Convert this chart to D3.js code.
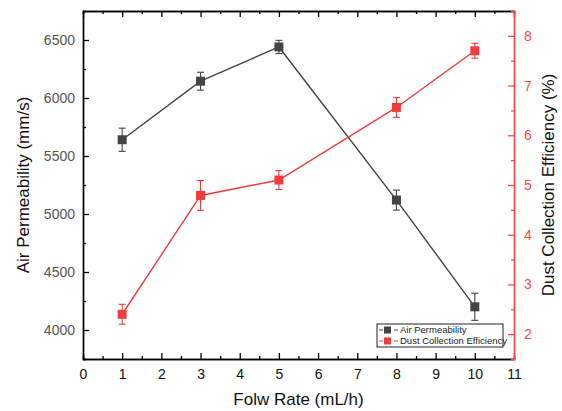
<!DOCTYPE html>
<html>
<head>
<meta charset="utf-8">
<script src="https://cdn.jsdelivr.net/npm/d3@7"></script>
<style>
	body { margin: 0; background: #fff; }
	text { font-family: "Liberation Sans", Arial, sans-serif; }
</style>
</head>
<body>
<div id="plot"></div>
<script>
var flowRate = [1, 3, 5, 8, 10];
var airPerm = [5640, 6145, 6440, 5120, 4200];
var airPermErr = [100, 77, 57, 86, 117];
var dustEff = [2.40, 4.79, 5.10, 6.56, 7.70];
var dustEffErr = [0.20, 0.30, 0.19, 0.20, 0.15];
var xTicks = [0, 1, 2, 3, 4, 5, 6, 7, 8, 9, 10, 11];
var leftTicks = [4000, 4500, 5000, 5500, 6000, 6500];
var rightTicks = [2, 3, 4, 5, 6, 7, 8];

function chart(){
	var margin = {top: 11, right: 48, bottom: 52, left: 83};
	var width = 562 - margin.left - margin.right;
	var height = 411 - margin.top - margin.bottom;
	var black = "#444";
	var red = "#f03c3c";
	var redAxis = "#ff4747";

	var x = d3.scaleLinear().domain([0, 11]).range([0, width]);
	var yL = d3.scaleLinear().domain([3750, 6750]).range([height, 0]);
	var yR = d3.scaleLinear().domain([1.5, 8.5]).range([height, 0]);

	var svg = d3.select("#plot").append("svg")
		.attr("width", 562)
		.attr("height", 411)
		.append("g")
		.attr("transform", "translate(" + margin.left + "," + margin.top + ")");

	var halves = function(ticks){ return ticks.map(function(t){ return t + 0.5; }); };
	var xMinor = halves(xTicks).filter(function(t){ return t < 11; });
	var leftMinor = [3750].concat(leftTicks.map(function(t){ return t + 250; }));
	var rightMinor = [1.5].concat(halves(rightTicks));

	function styleAxis(g, color){
		g.select(".domain").attr("stroke", color).attr("stroke-width", 1.4);
		g.selectAll(".tick line").attr("stroke", color).attr("stroke-width", 1.3);
	}

	// bottom
	var gx = svg.append("g")
		.attr("transform", "translate(0," + height + ")")
		.call(d3.axisBottom(x).tickValues(xTicks).tickSizeInner(-6).tickSizeOuter(0).tickPadding(10).tickFormat(d3.format("d")));
	styleAxis(gx, "#000");
	gx.selectAll("text").attr("font-size", 14).attr("fill", "#111");
	var gxm = svg.append("g")
		.attr("transform", "translate(0," + height + ")")
		.call(d3.axisBottom(x).tickValues(xMinor).tickSize(-3).tickFormat(""));
	styleAxis(gxm, "#000");

	// top
	var gt = svg.append("g")
		.call(d3.axisTop(x).tickValues(xTicks).tickSizeInner(-6).tickSizeOuter(0).tickFormat(""));
	styleAxis(gt, "#000");
	var gtm = svg.append("g")
		.call(d3.axisTop(x).tickValues(xMinor).tickSize(-3).tickFormat(""));
	styleAxis(gtm, "#000");

	// left
	var gl = svg.append("g")
		.call(d3.axisLeft(yL).tickValues(leftTicks).tickSizeInner(-6).tickSizeOuter(0).tickPadding(8).tickFormat(d3.format("d")));
	styleAxis(gl, "#000");
	gl.selectAll("text").attr("font-size", 14).attr("fill", "#555");
	var glm = svg.append("g")
		.call(d3.axisLeft(yL).tickValues(leftMinor).tickSize(-3).tickFormat(""));
	styleAxis(glm, "#000");

	// right
	var gr = svg.append("g")
		.attr("transform", "translate(" + width + ",0)")
		.call(d3.axisRight(yR).tickValues(rightTicks).tickSizeInner(-6).tickSizeOuter(0).tickPadding(10).tickFormat(d3.format("d")));
	styleAxis(gr, redAxis);
	gr.selectAll("text").attr("font-size", 14).attr("fill", redAxis);
	var grm = svg.append("g")
		.attr("transform", "translate(" + width + ",0)")
		.call(d3.axisRight(yR).tickValues(rightMinor).tickSize(-3).tickFormat(""));
	styleAxis(grm, redAxis);

	// titles
	svg.append("text")
		.attr("x", width / 2)
		.attr("y", height + 46)
		.attr("text-anchor", "middle")
		.attr("font-size", 17)
		.attr("fill", "#111")
		.text("Folw Rate (mL/h)");

	svg.append("text")
		.attr("transform", "translate(" + (-60) + "," + (height / 2) + ") rotate(-90)")
		.attr("text-anchor", "middle")
		.attr("dy", "0.35em")
		.attr("font-size", 17)
		.attr("fill", "#111")
		.text("Air Permeability (mm/s)");

	svg.append("text")
		.attr("transform", "translate(" + (width + 34) + "," + (height / 2) + ") rotate(-90)")
		.attr("text-anchor", "middle")
		.attr("dy", "0.35em")
		.attr("font-size", 17)
		.attr("fill", "#111")
		.text("Dust Collection Efficiency (%)");

	var series = [
		{vals: airPerm, errs: airPermErr, y: yL, color: black},
		{vals: dustEff, errs: dustEffErr, y: yR, color: red}
	];

	series.forEach(function(s){
		var pts = flowRate.map(function(f, i){ return {x: f, v: s.vals[i], e: s.errs[i]}; });
		var g = svg.append("g");

		g.append("path")
			.datum(pts)
			.attr("fill", "none")
			.attr("stroke", s.color)
			.attr("stroke-width", 1.4)
			.attr("d", d3.line().x(function(d){ return x(d.x); }).y(function(d){ return s.y(d.v); }));

		var eb = g.selectAll(".err").data(pts).enter().append("g").attr("class", "err")
			.attr("stroke", s.color).attr("stroke-width", 1.1);
		eb.append("line")
			.attr("x1", function(d){ return x(d.x); })
			.attr("x2", function(d){ return x(d.x); })
			.attr("y1", function(d){ return s.y(d.v + d.e); })
			.attr("y2", function(d){ return s.y(d.v - d.e); });
		[1, -1].forEach(function(sign){
			eb.append("line")
				.attr("x1", function(d){ return x(d.x) - 3.5; })
				.attr("x2", function(d){ return x(d.x) + 3.5; })
				.attr("y1", function(d){ return s.y(d.v + sign * d.e); })
				.attr("y2", function(d){ return s.y(d.v + sign * d.e); });
		});

		g.selectAll("rect").data(pts).enter().append("rect")
			.attr("x", function(d){ return x(d.x) - 4.5; })
			.attr("y", function(d){ return s.y(d.v) - 4.5; })
			.attr("width", 9)
			.attr("height", 9)
			.attr("fill", s.color);
	});

	// legend
	var lg = svg.append("g").attr("transform", "translate(" + (377 - margin.left) + "," + (324 - margin.top) + ")");
	lg.append("rect")
		.attr("width", 126)
		.attr("height", 23)
		.attr("fill", "#fff")
		.attr("stroke", "#222")
		.attr("stroke-width", 1);
	var names = ["Air Permeability", "Dust Collection Efficiency"];
	names.forEach(function(n, i){
		var yy = 6 + i * 11;
		lg.append("line")
			.attr("x1", 2).attr("x2", 21)
			.attr("y1", yy).attr("y2", yy)
			.attr("stroke", series[i].color)
			.attr("stroke-width", 1.2)
			.attr("stroke-dasharray", "4,11");
		lg.append("rect")
			.attr("x", 7).attr("y", yy - 3.5)
			.attr("width", 7).attr("height", 7)
			.attr("fill", series[i].color);
		lg.append("text")
			.attr("x", 23)
			.attr("y", yy)
			.attr("dy", "0.35em")
			.attr("font-size", 9.5)
			.attr("fill", "#222")
			.text(n);
	});
}

chart();
</script>
</body>
</html>
